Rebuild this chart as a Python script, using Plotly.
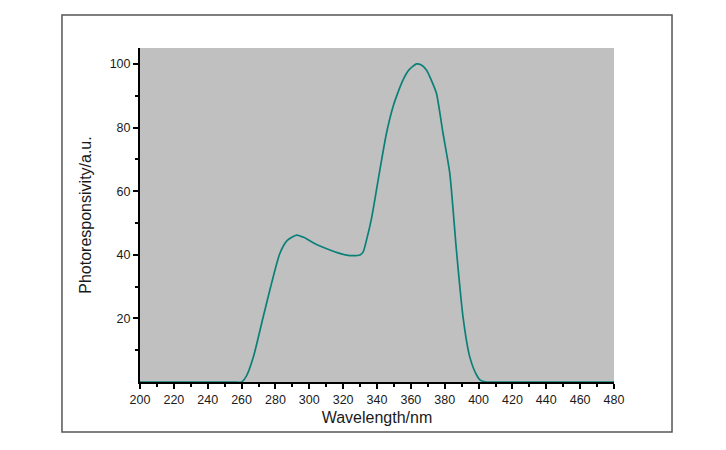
import plotly.graph_objects as go

wavelength = [200, 220, 240, 255, 260, 263, 267, 272.8, 277.7, 282.6, 287, 292.5, 297, 302.3, 307, 312.2, 317, 322, 326, 329.9,
              331.9, 333.8, 336.8, 341.7, 345.6, 349.5, 352, 355.4, 359, 363.3, 366, 369.2, 372, 375.1, 379, 383, 386.9,
              390.8, 394.8, 398.8, 401, 404.7, 420, 440, 460, 480]
photoresp = [0, 0, 0, 0, 0, 2, 7.9, 20.5, 31, 40.4, 44.5, 46.2, 45.4, 43.8, 42.6, 41.5, 40.6, 39.9, 39.7, 39.9,
             41, 44.6, 51.5, 66.7, 78.2, 86.6, 90.5, 95, 98.2, 100, 99.7, 98.1, 95, 90.8, 78.2, 65.6, 41.5,
             20.5, 7.9, 2.2, 0.6, 0, 0, 0, 0, 0]

x_ticks = list(range(200, 481, 20))
y_ticks = [20, 40, 60, 80, 100]

fig = go.Figure()
fig.add_trace(go.Scatter(x=wavelength, y=photoresp, mode="lines",
                         line=dict(color="#0a8078", width=1.7, shape="spline", smoothing=0.6),
                         showlegend=False, cliponaxis=False))

font_family = "Liberation Sans, Arial, sans-serif"
fig.update_layout(
    width=718, height=442,
    margin=dict(l=132, r=112, t=40, b=68),
    paper_bgcolor="white", plot_bgcolor="#c0c0c0",
    font=dict(family=font_family, color="#1a1a1a", size=12),
    xaxis=dict(range=[200, 480], tickvals=x_ticks, ticks="outside", ticklen=5, tickwidth=1.5,
               tickcolor="black", showline=True, linecolor="black", linewidth=2,
               showgrid=False, zeroline=False,
               minor=dict(ticks="outside", dtick=10, ticklen=3, tickwidth=1.5, tickcolor="black", showgrid=False),
               tickfont=dict(size=12.5),
               title=dict(text="Wavelength/nm", font=dict(size=16), standoff=6)),
    yaxis=dict(range=[0, 105], tickvals=y_ticks, ticks="outside", ticklen=5, tickwidth=1.5,
               tickcolor="black", showline=True, linecolor="black", linewidth=2,
               showgrid=False, zeroline=False,
               minor=dict(ticks="outside", tickvals=[10, 30, 50, 70, 90], ticklen=3, tickwidth=1.5,
                          tickcolor="black", showgrid=False),
               tickfont=dict(size=12.5),
               title=dict(text="Photoresponsivity/a.u.", font=dict(size=16), standoff=14)),
    shapes=[dict(type="rect", xref="paper", yref="paper",
                 x0=-0.1646, x1=1.1224, y0=-0.1497, y1=1.099,
                 line=dict(color="#555555", width=1.5), fillcolor="rgba(0,0,0,0)", layer="below")],
)

fig.write_html("out.html")
